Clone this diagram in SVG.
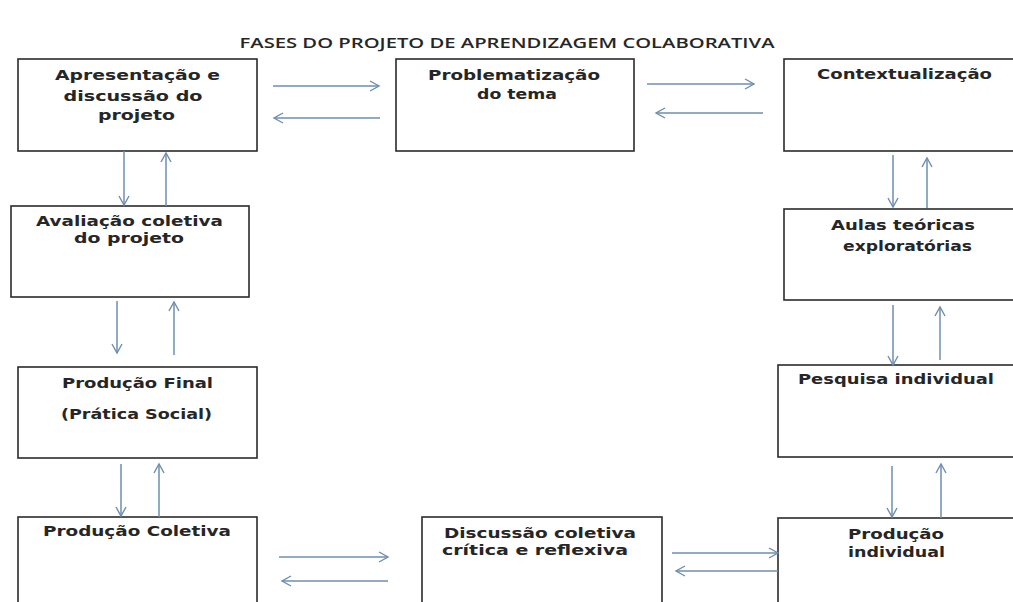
<svg xmlns="http://www.w3.org/2000/svg" width="1013" height="602" viewBox="0 0 1013 602">
<style>
.box{fill:#fff;stroke:#2b2b2b;stroke-width:1.6}
.t{font-family:"DejaVu Sans",Verdana,sans-serif;font-weight:bold;font-size:13.5px;fill:#262626}
.title{font-family:"Open Sans",Lato,"Liberation Sans",sans-serif;font-weight:600;font-size:14px;fill:#262626}
.c{fill:none;stroke:#6e8eae;stroke-width:1.5}
</style>
<defs>
<marker id="ah" markerUnits="userSpaceOnUse" markerWidth="13" markerHeight="13" refX="10" refY="5.5" orient="auto" viewBox="0 0 13 11">
<path d="M1,0.5 L10,5.5 L1,10.5" fill="none" stroke="#6e8eae" stroke-width="1.4"/>
</marker>
</defs>
<rect width="1013" height="602" fill="#fff"/>
<text class="title" x="507" y="48" text-anchor="middle" textLength="535" lengthAdjust="spacingAndGlyphs">FASES DO PROJETO DE APRENDIZAGEM COLABORATIVA</text>

<g id="n-apresentacao">
<rect class="box" x="18" y="59" width="239" height="92"/>
<text class="t" x="137.5" y="80" text-anchor="middle" textLength="165" lengthAdjust="spacingAndGlyphs">Apresentação e</text>
<text class="t" x="133" y="101" text-anchor="middle" textLength="139" lengthAdjust="spacingAndGlyphs">discussão  do</text>
<text class="t" x="136.5" y="120" text-anchor="middle" textLength="77" lengthAdjust="spacingAndGlyphs">projeto</text>
</g>
<g id="n-problematizacao">
<rect class="box" x="396" y="59" width="238" height="92"/>
<text class="t" x="514" y="80" text-anchor="middle" textLength="172" lengthAdjust="spacingAndGlyphs">Problematização</text>
<text class="t" x="517" y="99" text-anchor="middle" textLength="80" lengthAdjust="spacingAndGlyphs">do tema</text>
</g>
<g id="n-contextualizacao">
<rect class="box" x="784" y="59" width="245" height="92"/>
<text class="t" x="904.5" y="79" text-anchor="middle" textLength="175" lengthAdjust="spacingAndGlyphs">Contextualização</text>
</g>
<g id="n-aulas">
<rect class="box" x="784" y="209" width="245" height="91"/>
<text class="t" x="903" y="230" text-anchor="middle" textLength="144" lengthAdjust="spacingAndGlyphs">Aulas teóricas</text>
<text class="t" x="907.5" y="251" text-anchor="middle" textLength="129" lengthAdjust="spacingAndGlyphs">exploratórias</text>
</g>
<g id="n-pesquisa">
<rect class="box" x="778" y="365" width="251" height="92"/>
<text class="t" x="896" y="384" text-anchor="middle" textLength="196" lengthAdjust="spacingAndGlyphs">Pesquisa individual</text>
</g>
<g id="n-producao-individual">
<rect class="box" x="778" y="518" width="251" height="100"/>
<text class="t" x="896" y="539" text-anchor="middle" textLength="96" lengthAdjust="spacingAndGlyphs">Produção</text>
<text class="t" x="896.5" y="557" text-anchor="middle" textLength="97" lengthAdjust="spacingAndGlyphs">individual</text>
</g>
<g id="n-discussao">
<rect class="box" x="422" y="517" width="240" height="100"/>
<text class="t" x="540" y="538" text-anchor="middle" textLength="192" lengthAdjust="spacingAndGlyphs">Discussão  coletiva</text>
<text class="t" x="535" y="555" text-anchor="middle" textLength="186" lengthAdjust="spacingAndGlyphs">crítica e reflexiva</text>
</g>
<g id="n-producao-coletiva">
<rect class="box" x="18" y="517" width="239" height="100"/>
<text class="t" x="137" y="536" text-anchor="middle" textLength="188" lengthAdjust="spacingAndGlyphs">Produção Coletiva</text>
</g>
<g id="n-producao-final">
<rect class="box" x="18" y="367" width="239" height="91"/>
<text class="t" x="137.5" y="388" text-anchor="middle" textLength="151" lengthAdjust="spacingAndGlyphs">Produção Final</text>
<text class="t" x="136.5" y="419" text-anchor="middle" textLength="151" lengthAdjust="spacingAndGlyphs">(Prática Social)</text>
</g>
<g id="n-avaliacao">
<rect class="box" x="11" y="206" width="238" height="91"/>
<text class="t" x="129.5" y="226" text-anchor="middle" textLength="187" lengthAdjust="spacingAndGlyphs">Avaliação  coletiva</text>
<text class="t" x="129" y="243" text-anchor="middle" textLength="110" lengthAdjust="spacingAndGlyphs">do projeto</text>
</g>

<g id="connectors">
<line class="c" x1="273" y1="86" x2="379" y2="86" marker-end="url(#ah)"/>
<line class="c" x1="380" y1="118" x2="274" y2="118" marker-end="url(#ah)"/>
<line class="c" x1="647" y1="84" x2="754" y2="84" marker-end="url(#ah)"/>
<line class="c" x1="763" y1="113" x2="656" y2="113" marker-end="url(#ah)"/>
<line class="c" x1="893" y1="155" x2="893" y2="207" marker-end="url(#ah)"/>
<line class="c" x1="927" y1="208" x2="927" y2="158" marker-end="url(#ah)"/>
<line class="c" x1="893" y1="305" x2="893" y2="365" marker-end="url(#ah)"/>
<line class="c" x1="940" y1="360" x2="940" y2="307" marker-end="url(#ah)"/>
<line class="c" x1="892" y1="466" x2="892" y2="517" marker-end="url(#ah)"/>
<line class="c" x1="941" y1="518" x2="941" y2="464" marker-end="url(#ah)"/>
<line class="c" x1="672" y1="553" x2="778" y2="553" marker-end="url(#ah)"/>
<line class="c" x1="778" y1="571" x2="676" y2="571" marker-end="url(#ah)"/>
<line class="c" x1="279" y1="557" x2="388" y2="557" marker-end="url(#ah)"/>
<line class="c" x1="388" y1="581" x2="282" y2="581" marker-end="url(#ah)"/>
<line class="c" x1="121" y1="464" x2="121" y2="516" marker-end="url(#ah)"/>
<line class="c" x1="159" y1="517" x2="159" y2="464" marker-end="url(#ah)"/>
<line class="c" x1="117" y1="301" x2="117" y2="353" marker-end="url(#ah)"/>
<line class="c" x1="174" y1="355" x2="174" y2="302" marker-end="url(#ah)"/>
<line class="c" x1="124" y1="151" x2="124" y2="205" marker-end="url(#ah)"/>
<line class="c" x1="166" y1="206" x2="166" y2="153" marker-end="url(#ah)"/>
</g>
</svg>
